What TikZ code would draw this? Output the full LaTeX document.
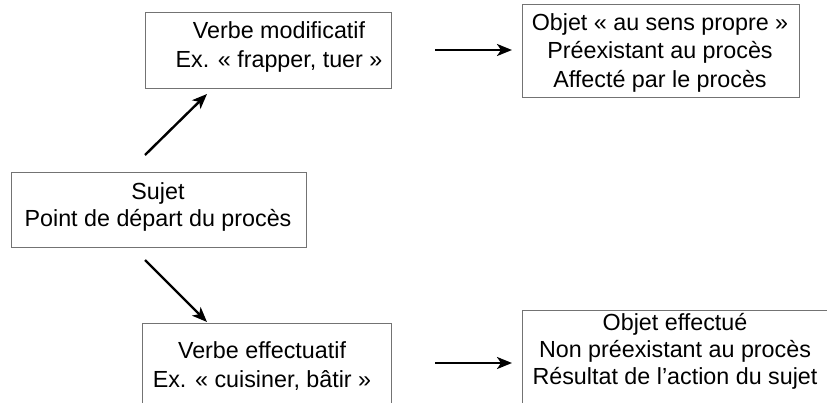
\documentclass[tikz,border=0pt]{standalone}
\usepackage{fontspec}
\setmainfont{Liberation Sans}
\usetikzlibrary{arrows.meta}
\begin{document}
\begin{tikzpicture}[x=1pt,y=-1pt,
  frame/.style={draw=black!55,line width=1pt,fill=white},
  txt/.style={align=center,inner sep=0pt,font=\fontsize{23.3}{28.5}\selectfont},
  tight/.style={font=\fontsize{23.3}{27}\selectfont},
  conn/.style={line width=2.4pt,-{Stealth[length=15pt,width=12pt,inset=4pt]}}]
\clip (0,0) rectangle (827,402);
\fill[white] (0,0) rectangle (827,402);
% boxes
\draw[frame] (145,12) rectangle (391,88);
\draw[frame] (522,4) rectangle (799,97);
\draw[frame] (11,172) rectangle (306,247);
\draw[frame] (142,323) rectangle (391,420);
\draw[frame] (522,310) rectangle (840,420);
% texts (anchor=base is the baseline of the last line)
\node[txt,anchor=base] (vm) at (279,67) {Verbe modificatif\\Ex. « frapper, tuer »};
\node[txt,anchor=base] (op) at (660,87) {Objet « au sens propre »\\Préexistant au procès\\Affecté par le procès};
\node[txt,tight,anchor=base] (su) at (158,226) {Sujet\\Point de départ du procès};
\node[txt,anchor=base] (ve) at (262,387) {Verbe effectuatif\\Ex. « cuisiner, bâtir »};
\node[txt,tight,anchor=base] (oe) at (675,384) {Objet effectué\\Non préexistant au procès\\Résultat de l’action du sujet};
% arrow end points
\coordinate (a1s) at (145,155); \coordinate (a1e) at (207,94);
\coordinate (a2s) at (145,260); \coordinate (a2e) at (207,322);
\coordinate (a3s) at (435,50);  \coordinate (a3e) at (512,50);
\coordinate (a4s) at (435,363); \coordinate (a4e) at (512,363);
\draw[conn] (a1s) -- (a1e);
\draw[conn] (a2s) -- (a2e);
\draw[conn] (a3s) -- (a3e);
\draw[conn] (a4s) -- (a4e);
\end{tikzpicture}
\end{document}
